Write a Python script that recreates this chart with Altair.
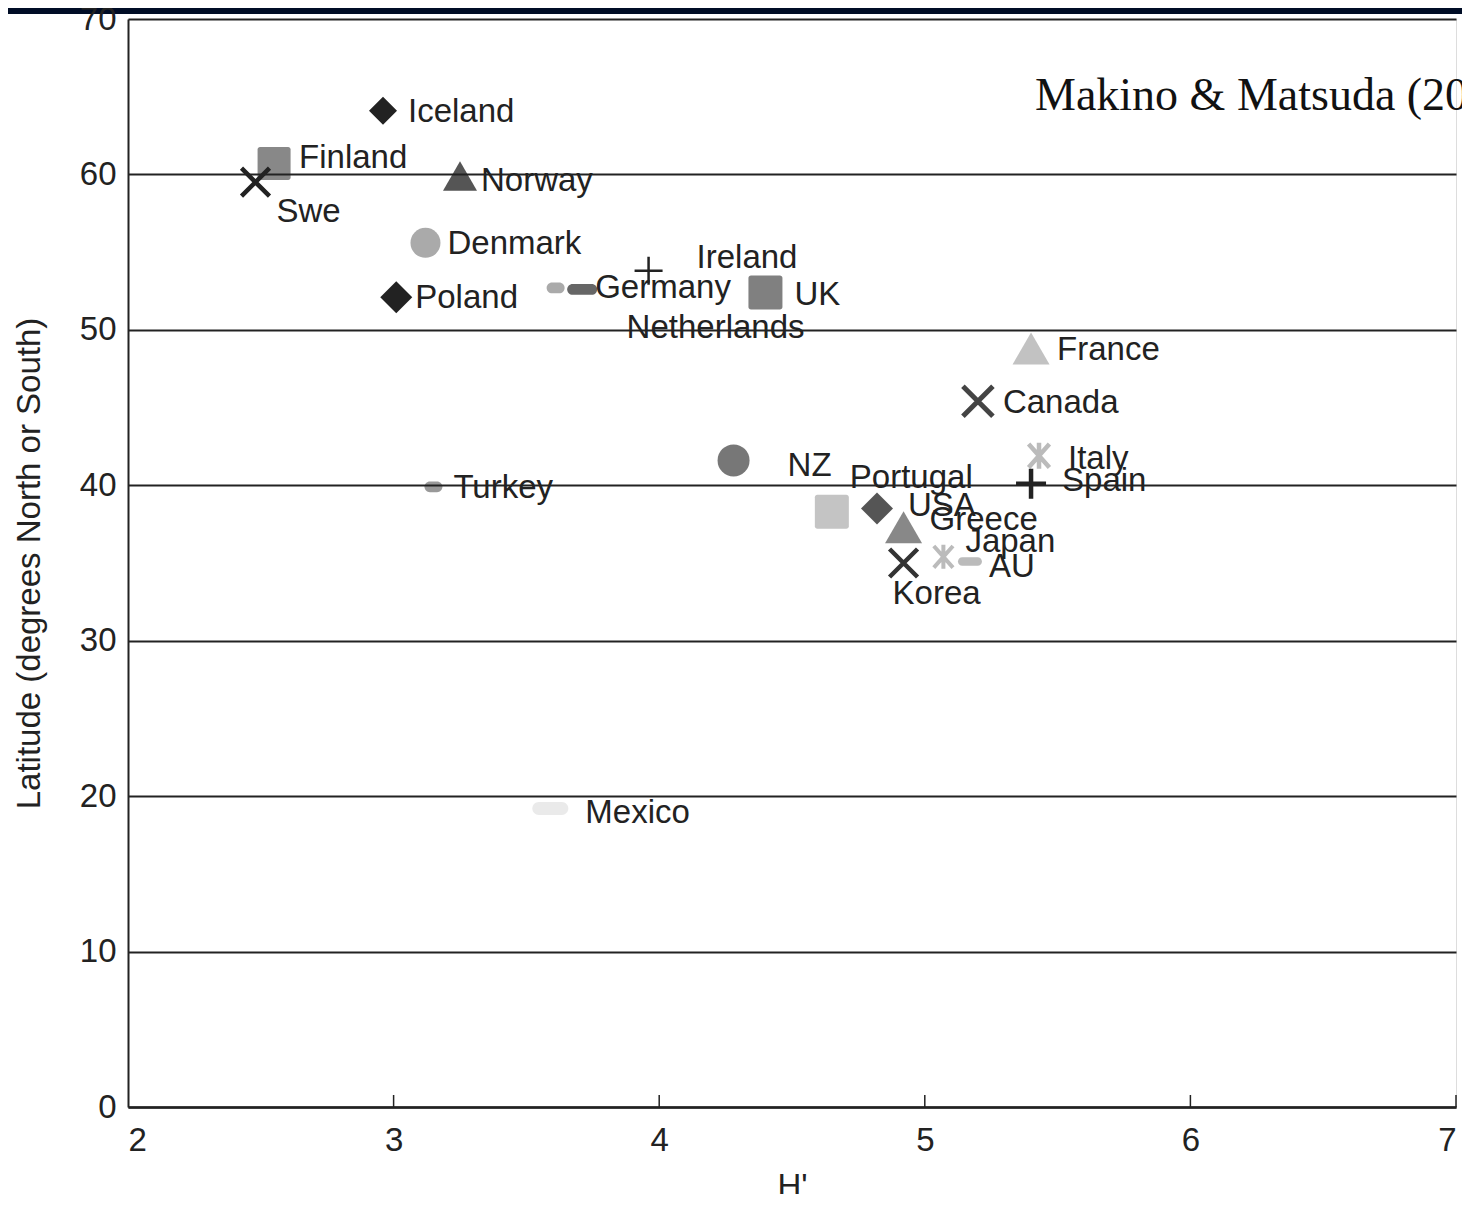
import altair as alt
import pandas as pd

# ---------------- data ----------------
countries = ["Iceland", "Finland", "Swe", "Norway", "Denmark", "Poland",
             "Netherlands", "Germany", "Ireland", "UK", "France", "Canada",
             "Italy", "Spain", "NZ", "Portugal", "USA", "Greece", "Korea",
             "Japan", "AU", "Turkey", "Mexico"]
h_index = [2.96, 2.55, 2.48, 3.25, 3.12, 3.01,
           3.61, 3.71, 3.96, 4.40, 5.40, 5.20,
           5.43, 5.40, 4.28, 4.65, 4.82, 4.92, 4.92,
           5.07, 5.17, 3.15, 3.59]
latitude = [64.1, 60.7, 59.5, 59.9, 55.6, 52.1,
            52.7, 52.6, 53.8, 52.4, 48.8, 45.4,
            41.9, 40.1, 41.6, 38.3, 38.5, 37.3, 35.0,
            35.4, 35.1, 39.9, 19.2]
x_ticks = [2, 3, 4, 5, 6, 7]
y_ticks = [0, 10, 20, 30, 40, 50, 60, 70]
x_title = "H'"
y_title = "Latitude (degrees North or South)"
source_note = "Makino & Matsuda (2016)"

# ---------------- styles ----------------
FONT = "Liberation Sans, Arial, Helvetica, sans-serif"
FS = 33
X_PATH = "M-1,-1L1,1M-1,1L1,-1"
PLUS_PATH = "M-1,0L1,0M0,-1L0,1"
AST_PATH = "M-0.8,-0.9L0.8,0.9M-0.8,0.9L0.8,-0.9M0,-1L0,1"
SQ_PATH = ("M-0.85,-1L0.85,-1A0.15,0.15,0,0,1,1,-0.85L1,0.85A0.15,0.15,0,0,1,0.85,1"
           "L-0.85,1A0.15,0.15,0,0,1,-1,0.85L-1,-0.85A0.15,0.15,0,0,1,-0.85,-1Z")
DASH_PATH = "M-0.64,-0.36L0.64,-0.36A0.36,0.36,0,0,1,0.64,0.36L-0.64,0.36A0.36,0.36,0,0,1,-0.64,-0.36Z"
STUB_PATH = "M-0.4,-0.6L0.4,-0.6A0.6,0.6,0,0,1,0.4,0.6L-0.4,0.6A0.6,0.6,0,0,1,-0.4,-0.6Z"

# country: (shape, colour, size, filled, strokeWidth)
marker_style = {
    "Iceland": ("diamond", "#222222", 784, True, 0),
    "Finland": (SQ_PATH, "#888888", 1089, True, 0),
    "Swe": (X_PATH, "#222222", 784, False, 4.5),
    "Norway": ("triangle-up", "#555555", 1156, True, 0),
    "Denmark": ("circle", "#aaaaaa", 900, True, 0),
    "Poland": ("diamond", "#222222", 1024, True, 0),
    "Netherlands": (STUB_PATH, "#aaaaaa", 324, True, 0),
    "Germany": (DASH_PATH, "#666666", 900, True, 0),
    "Ireland": (PLUS_PATH, "#222222", 784, False, 2.5),
    "UK": (SQ_PATH, "#808080", 1156, True, 0),
    "France": ("triangle-up", "#c2c2c2", 1369, True, 0),
    "Canada": (X_PATH, "#444444", 900, False, 5),
    "Italy": (AST_PATH, "#bbbbbb", 676, False, 4.5),
    "Spain": (PLUS_PATH, "#222222", 900, False, 4.5),
    "NZ": ("circle", "#777777", 1024, True, 0),
    "Portugal": (SQ_PATH, "#c4c4c4", 1156, True, 0),
    "USA": ("diamond", "#555555", 1024, True, 0),
    "Greece": ("triangle-up", "#888888", 1369, True, 0),
    "Korea": (X_PATH, "#333333", 784, False, 4.5),
    "Japan": (AST_PATH, "#bbbbbb", 576, False, 4),
    "AU": (DASH_PATH, "#bbbbbb", 576, True, 0),
    "Turkey": (STUB_PATH, "#999999", 324, True, 0),
    "Mexico": (DASH_PATH, "#eaeaea", 1296, True, 0),
}
# label offsets in pixels from the marker
label_offset = {
    "Iceland": (25, 1), "Finland": (25, -6), "Swe": (21, 30), "Norway": (21, 5),
    "Denmark": (22, 1), "Poland": (19, 1), "Netherlands": (71, 40),
    "Germany": (13, -1), "Ireland": (48, -13), "UK": (29, 2), "France": (26, 1),
    "Canada": (25, 2), "Italy": (29, 3), "Spain": (31, -3), "NZ": (54, 6),
    "Portugal": (18, -34), "USA": (31, -3), "Greece": (26, -7), "Korea": (-11, 31),
    "Japan": (22, -15), "AU": (19, 6), "Turkey": (20, 1), "Mexico": (35, 4),
}

df = pd.DataFrame({"country": countries, "h": h_index, "lat": latitude})
df["shape"] = [marker_style[c][0] for c in countries]
df["color"] = [marker_style[c][1] for c in countries]
df["size"] = [marker_style[c][2] for c in countries]
df["filled"] = [marker_style[c][3] for c in countries]
df["sw"] = [marker_style[c][4] for c in countries]

W, H = 1328, 1088

x_axis = alt.Axis(values=x_ticks, grid=False, ticks=False, domainColor="#222222",
                  domainWidth=2.5, labelFontSize=FS, labelPadding=17, labelColor="#222222",
                  labelFont=FONT, title=x_title, titleFont=FONT, titleFontSize=FS,
                  titleFontWeight="normal", titleColor="#222222", titlePadding=13)
y_axis = alt.Axis(values=y_ticks, grid=True, gridColor="#222222", gridWidth=1.8,
                  ticks=False, domainColor="#222222", domainWidth=2,
                  labelFontSize=FS, labelPadding=12, labelColor="#222222", labelFont=FONT,
                  title=y_title, titleFont=FONT, titleFontSize=FS, titleFontWeight="normal",
                  titleColor="#222222", titlePadding=33, zindex=1)
xs = alt.Scale(domain=[2, 7], nice=False, zero=False)
ys = alt.Scale(domain=[0, 70], nice=False, zero=False)

base = alt.Chart(df)

band = alt.Chart(pd.DataFrame({"a": [0]})).mark_rect(color="#000d26").encode(
    x=alt.value(-128), x2=alt.value(W + 20), y=alt.value(-11), y2=alt.value(-5))

tick_df = pd.DataFrame({"tick": x_ticks[1:]})
ticks = alt.Chart(tick_df).mark_rule(color="#222222", strokeWidth=1.5).encode(
    x=alt.X("tick:Q", scale=xs, axis=x_axis), y=alt.value(H), y2=alt.value(H - 12))

filled_pts = base.transform_filter(alt.datum.filled == True).mark_point(
    filled=True, opacity=1).encode(
    x=alt.X("h:Q", scale=xs, axis=x_axis),
    y=alt.Y("lat:Q", scale=ys, axis=y_axis),
    shape=alt.Shape("shape:N", scale=None),
    color=alt.Color("color:N", scale=None),
    size=alt.Size("size:Q", scale=None),
)
stroked_pts = base.transform_filter(alt.datum.filled == False).mark_point(
    filled=False, opacity=1, strokeCap="butt").encode(
    x=alt.X("h:Q", scale=xs, axis=x_axis),
    y=alt.Y("lat:Q", scale=ys, axis=y_axis),
    shape=alt.Shape("shape:N", scale=None),
    color=alt.Color("color:N", scale=None),
    size=alt.Size("size:Q", scale=None),
    strokeWidth=alt.StrokeWidth("sw:Q", scale=None),
)

labels = []
for name in countries:
    ldx, ldy = label_offset[name]
    labels.append(
        base.transform_filter(alt.datum.country == name).mark_text(
            align="left", baseline="middle", dx=ldx, dy=ldy, fontSize=FS,
            font=FONT, color="#222222").encode(
            x=alt.X("h:Q", scale=xs, axis=x_axis),
            y=alt.Y("lat:Q", scale=ys, axis=y_axis),
            text="country:N")
    )

note = alt.Chart(pd.DataFrame({"t": [source_note]})).mark_text(
    align="left", baseline="middle", font="Liberation Serif, Times New Roman, serif",
    fontSize=46, color="#111111").encode(
    x=alt.value(907), y=alt.value(77), text="t:N")

chart = alt.layer(band, ticks, filled_pts, stroked_pts, *labels, note).properties(
    width=W, height=H,
    autosize=alt.AutoSizeParams(type="none"),
    padding={"left": 120, "top": 11, "right": 6, "bottom": 87},
).configure_view(stroke="transparent", strokeWidth=0).configure(background="white")

chart.save("out.html", embed_options={"renderer": "svg", "actions": False})
